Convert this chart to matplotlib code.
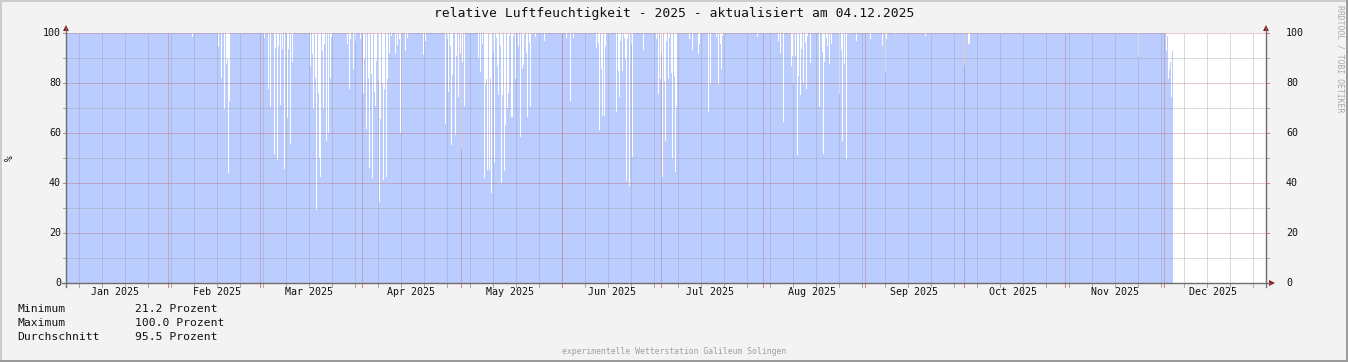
import numpy as np
import matplotlib
matplotlib.use("Agg")
import matplotlib.pyplot as plt
from matplotlib.lines import Line2D
from matplotlib.patches import Rectangle, Polygon

# ---------------- data ----------------
title = "relative Luftfeuchtigkeit - 2025 - aktualisiert am 04.12.2025"
month_labels = ["Jan 2025", "Feb 2025", "Mar 2025", "Apr 2025", "May 2025", "Jun 2025",
                "Jul 2025", "Aug 2025", "Sep 2025", "Oct 2025", "Nov 2025", "Dec 2025"]
month_start_day = [0, 31, 59, 90, 120, 151, 181, 212, 243, 273, 304, 334]
year_days = 365
first_week_day = 4
y_major = [0, 20, 40, 60, 80, 100]
y_minor = [10, 30, 50, 70, 90]
y_unit = "%"
base_value = 100.0          # saturated humidity between the dips
data_start_day = 0.0
data_end_day = 336.7

# dips below 100 % (day of year, value in %)
dip_day = [
    38.54, 46.35, 47.36, 48.18, 48.68, 49.09, 49.39, 49.80,
    60.44, 61.46, 62.27, 63.28, 63.69, 64.29, 64.70, 65.31, 65.71, 66.52, 67.34, 67.74,
    68.35, 68.76, 74.43, 74.84, 75.24, 75.85, 76.26, 76.66, 77.07, 77.47, 77.88, 78.28,
    78.69, 79.30, 79.70, 80.31, 80.72, 85.58, 86.19, 86.60, 87.51, 87.92, 89.44, 90.35,
    90.86, 91.46, 91.87, 92.38, 92.88, 93.29, 93.69, 94.10, 94.50, 94.91, 95.32, 95.72,
    96.13, 96.53, 96.94, 97.35, 97.75, 98.36, 98.97, 100.28, 100.69, 101.30, 101.70,
    103.32, 103.73, 108.60, 109.41, 115.49, 116.00, 116.40, 116.81, 117.21, 117.62,
    118.43, 118.84, 119.24, 119.85,
    120.26, 120.66, 121.07, 125.53, 126.14, 126.74, 127.35, 127.65, 127.96, 128.26,
    128.77, 128.98, 129.18, 129.48, 129.99, 130.39, 130.80, 131.20, 131.61, 132.02,
    132.52, 132.83, 133.33, 133.74, 134.14, 134.55, 134.96, 135.36, 135.77, 136.17,
    136.58, 137.49, 138.30, 138.71, 139.11, 139.52, 139.92, 140.43, 140.84, 141.34,
    141.75, 142.76, 145.40, 152.29, 153.51, 154.32, 161.41, 161.92, 162.33, 162.83,
    163.24, 163.65, 164.05, 167.50, 167.90, 168.31, 168.71, 169.22, 169.73, 170.03,
    170.34, 170.84, 171.25, 171.45, 171.86, 172.26, 175.51, 179.66, 180.27, 180.88,
    181.08, 181.49, 181.90, 182.30, 182.71, 183.11, 183.52, 184.12, 184.53, 184.94,
    185.44, 185.75, 189.60, 190.41, 192.44, 192.84, 195.48, 195.89, 197.71, 198.52,
    198.93, 199.43, 199.74, 210.48, 216.57, 217.38, 218.29, 220.62, 220.92, 221.43,
    221.94, 222.45, 222.95, 223.36, 223.76, 224.27, 224.78, 225.28, 225.69, 226.50,
    229.24, 230.05, 230.45, 230.86, 231.37, 231.77, 232.28, 232.79, 235.42, 235.93,
    236.33, 236.74, 237.45, 238.26, 240.49,
    244.55, 244.75, 248.40, 249.21, 249.61, 252.25, 261.48, 273.34, 274.45, 274.70,
    326.26, 334.77, 334.98, 335.38, 335.79, 336.09, 336.29, 336.60,
]
dip_val = [
    98.5, 94.5, 82.1, 69.5, 87.7, 89.5, 43.9, 72.8,
    98.0, 77.5, 70.5, 51.5, 94.0, 49.2, 94.8, 71.2, 93.5, 45.5, 66.1, 93.5,
    55.5, 88.5, 87.0, 91.5, 69.5, 82.0, 29.2, 76.0, 49.9, 42.5, 92.8, 69.5,
    95.5, 56.8, 60.1, 82.0, 98.5, 95.5, 77.5, 97.5, 85.7, 96.8, 97.7, 75.9,
    89.5, 61.7, 82.0, 46.1, 83.5, 41.9, 76.5, 70.8, 88.8, 81.2, 32.5, 65.7,
    80.1, 41.2, 77.7, 42.5, 81.5, 91.9, 98.8, 91.5, 95.2, 97.5, 59.9,
    92.8, 98.1, 91.2, 96.8, 63.7, 97.5, 76.5, 94.8, 55.1, 83.2,
    59.1, 90.8, 74.5, 92.1,
    53.5, 88.5, 70.8, 89.9, 84.5, 95.5, 42.1, 79.5, 81.5, 45.2,
    45.2, 82.1, 94.8, 36.1, 92.8, 47.9, 98.1, 86.8, 75.2, 94.8,
    40.1, 75.2, 44.8, 63.2, 69.9, 75.9, 98.8, 66.5, 66.5, 98.8,
    81.5, 94.8, 58.5, 85.5, 87.1, 99.5, 91.9, 66.5, 96.1, 70.5,
    99.5, 98.5, 96.8, 98.1, 72.8, 98.1, 94.1, 95.9, 61.2, 85.5,
    66.8, 66.8, 94.8, 68.5, 84.8, 74.5, 96.8, 84.8, 98.1, 89.5,
    40.8, 97.5, 76.8, 38.8, 95.5, 50.5, 93.2, 97.7, 75.5, 81.5,
    92.1, 42.5, 80.8, 56.8, 96.8, 81.5, 98.1, 84.1, 49.5, 82.8,
    44.5, 70.8, 97.5, 93.2, 91.5, 95.5, 68.4, 79.5, 98.5, 79.5,
    95.5, 85.5, 98.8, 98.5, 96.8, 92.1, 64.5, 86.8, 90.8, 79.5,
    90.8, 51.1, 82.8, 75.1, 93.5, 79.9, 96.1, 77.7, 98.8, 88.1,
    70.5, 92.4, 51.5, 88.5, 98.1, 94.8, 87.5, 95.5, 75.5, 93.2,
    56.8, 87.5, 49.5, 99.5, 96.8,
    98.8, 97.7, 94.8, 84.5, 97.5, 99.5, 98.8, 87.2, 95.5, 95.5,
    90.5, 92.8, 98.8, 81.7, 85.2, 88.4, 74.5, 92.8,
]
stats_names = ["Minimum", "Maximum", "Durchschnitt"]
stats_values = ["21.2 Prozent", "100.0 Prozent", "95.5 Prozent"]
footer = "experimentelle Wetterstation Galileum Solingen"
side_text = "RRDTOOL / TOBI OETIKER"

# ---------------- layout ----------------
W, H, DPI = 1348, 362, 100
L, R, T, B = 66, 1266, 33, 283
MONO = "DejaVu Sans Mono"
AREA = "#BBCCFF"
MINOR_GRID = "#9A9A9A"
MAJOR_GRID = "#C06060"
AXIS_COL = "#6E6E6E"
ARROW_COL = "#8E1A1A"

fig = plt.figure(figsize=(W / DPI, H / DPI), dpi=DPI, facecolor="#F3F3F3")


def fx(x):
    return x / W


def fy(y):
    return 1 - y / H


ax = fig.add_axes([fx(L), fy(B), (R - L) / W, (B - T) / H])
ax.set_xlim(0, year_days)
ax.set_ylim(0, 100)
ax.set_facecolor("white")
for s in ax.spines.values():
    s.set_visible(False)
ax.set_xticks([])
ax.set_yticks([])

# area
ax.fill_between([data_start_day, data_end_day], 0, base_value, color=AREA, lw=0,
                zorder=1, antialiased=False)
px_day = year_days / (R - L)
ax.bar(dip_day, [base_value - v for v in dip_val], bottom=dip_val, width=px_day,
       color="white", lw=0, antialiased=False, zorder=1.5)

dots = (0, (1, 1))
gkw = dict(lw=0.72, ls=dots, antialiased=False, alpha=0.35)
# vertical grid
week_days = np.arange(first_week_day, year_days, 7)
for d in week_days:
    ax.axvline(d, color=MINOR_GRID, zorder=3, **gkw)
for d in month_start_day:
    ax.axvline(d, color=MAJOR_GRID, zorder=3.1, **gkw)
# horizontal grid
for v in y_minor:
    ax.axhline(v, color=MINOR_GRID, zorder=3, **gkw)
for v in y_major:
    ax.axhline(v, color=MAJOR_GRID, zorder=3.1, **gkw)

# bottom ticks
xt = ax.get_xaxis_transform()
for d in week_days:
    ax.plot([d, d], [0, -4 / (B - T)], transform=xt, color="#AAAAAA", lw=0.72, clip_on=False)
for d in month_start_day:
    ax.plot([d, d], [0, -4 / (B - T)], transform=xt, color="#D08080", lw=0.72, clip_on=False)

# y ticks on left / right
for v in y_minor + y_major:
    yy = B - v * (B - T) / 100
    col = "#D08080" if v in y_major else "#AAAAAA"
    fig.add_artist(Line2D([fx(L - 3), fx(L)], [fy(yy), fy(yy)], color=col, lw=0.72))
    fig.add_artist(Line2D([fx(R), fx(R + 3)], [fy(yy), fy(yy)], color=col, lw=0.72))

# axis lines
fig.add_artist(Line2D([fx(L), fx(L)], [fy(287), fy(28)], color=AXIS_COL, lw=1.0))
fig.add_artist(Line2D([fx(R), fx(R)], [fy(287), fy(28)], color=AXIS_COL, lw=1.0))
fig.add_artist(Line2D([fx(62), fx(1270)], [fy(B), fy(B)], color=AXIS_COL, lw=1.0))

# arrows
for xa in (L, R):
    fig.add_artist(Polygon([(fx(xa - 3), fy(31)), (fx(xa + 3), fy(31)), (fx(xa), fy(25))],
                           closed=True, color=ARROW_COL, transform=fig.transFigure, lw=0))
fig.add_artist(Polygon([(fx(1269), fy(B - 3)), (fx(1269), fy(B + 3)), (fx(1275), fy(B))],
                       closed=True, color=ARROW_COL, transform=fig.transFigure, lw=0))

# month labels
for d, lab in zip(month_start_day, month_labels):
    ax.text(d + 15, -9 / (B - T), lab, transform=xt, ha="center", va="center",
            family=MONO, fontsize=7.2, color="#111111")

# y labels
yt = ax.get_yaxis_transform()
for v in y_major:
    ax.text(-5 / (R - L), v, str(v), transform=yt, ha="right", va="center",
            family=MONO, fontsize=7.2, color="#111111")
    ax.text(1 + 20 / (R - L), v, str(v), transform=yt, ha="left", va="center",
            family=MONO, fontsize=7.2, color="#111111")

fig.text(fx(10), fy(158), y_unit, rotation=90, ha="center", va="center",
         family=MONO, fontsize=7, color="#111111")

# title
fig.text(fx(674), fy(13.5), title, ha="center", va="center", family=MONO,
         fontsize=9.4, color="#111111")

# statistics
for i, (n, v) in enumerate(zip(stats_names, stats_values)):
    yy = 309.5 + 14 * i
    fig.text(fx(17), fy(yy), n, ha="left", va="center", family=MONO, fontsize=8.2, color="#111111")
    fig.text(fx(135), fy(yy), v, ha="left", va="center", family=MONO, fontsize=8.2, color="#111111")

fig.text(fx(674), fy(351), footer, ha="center", va="center", family=MONO,
         fontsize=5.9, color="#A0A0A0")
fig.text(fx(1340), fy(5), side_text, rotation=270, ha="center", va="top",
         family=MONO, fontsize=5.9, color="#ABABAB")

# frame
fig.add_artist(Rectangle((0, 0), fx(2), 1, transform=fig.transFigure, color="#CDCDCD", lw=0))
fig.add_artist(Rectangle((0, fy(2)), 1, 2 / H, transform=fig.transFigure, color="#CDCDCD", lw=0))
fig.add_artist(Rectangle((0, 0), 1, 2 / H, transform=fig.transFigure, color="#9A9A9A", lw=0))
fig.add_artist(Rectangle((fx(W - 2), 0), 2 / W, 1, transform=fig.transFigure, color="#9A9A9A", lw=0))

fig.savefig("out.png", dpi=DPI, facecolor=fig.get_facecolor())
